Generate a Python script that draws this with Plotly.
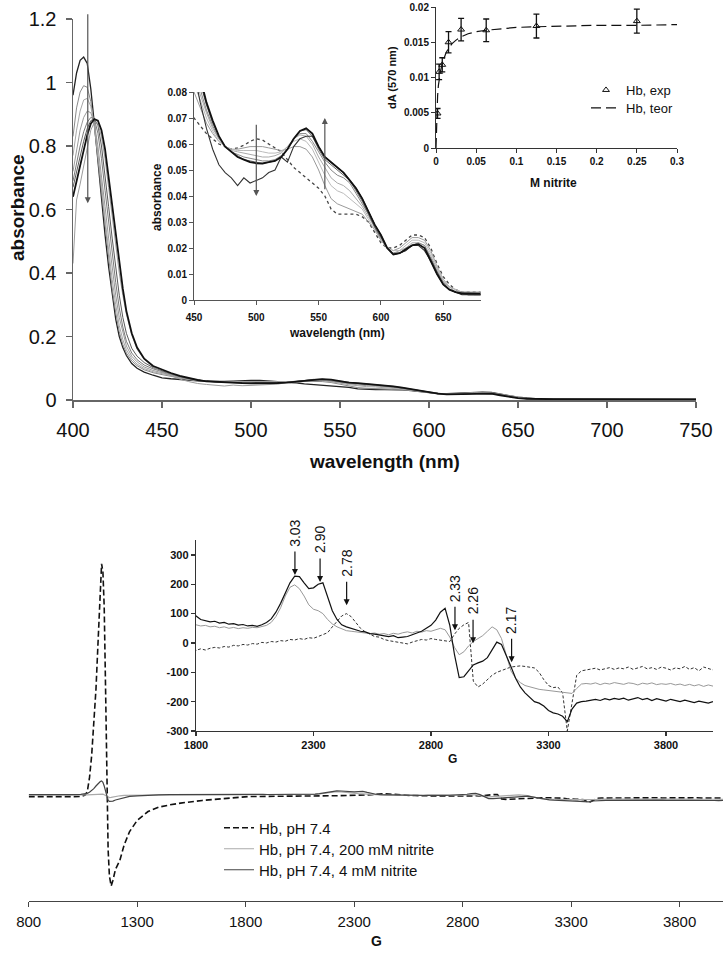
import plotly.graph_objects as go

W, H = 725, 953
FONT = "Liberation Sans, Arial, Helvetica, sans-serif"

# ---------------- UV-vis spectra (nm, absorbance) ----------------
wavelength_nm = [400, 402, 404, 406, 408, 410, 412, 414, 416, 418, 420, 422, 424, 426, 428, 430, 433, 436, 440, 445,
                 450, 455, 460, 465, 470, 475, 480, 485, 490, 495,
                 500, 505, 510, 515, 520, 525, 530, 535, 540, 545,
                 550, 555, 560, 565, 570, 575, 580, 585, 590, 595,
                 600, 605, 610, 615, 620, 625, 630, 635, 640, 645,
                 650, 655, 660, 665, 670, 675, 680, 700, 720, 750]

abs_A = [0.96, 1.03, 1.07, 1.08, 1.06, 0.98, 0.87, 0.75, 0.63, 0.52, 0.42, 0.33, 0.255, 0.20, 0.165, 0.14, 0.115, 0.10, 0.088, 0.078,
         0.070, 0.067, 0.064, 0.062, 0.060, 0.059, 0.058, 0.0585, 0.0595, 0.061,
         0.062, 0.0615, 0.060, 0.0585, 0.057, 0.054, 0.051, 0.049, 0.047, 0.045,
         0.043, 0.040, 0.035, 0.033, 0.033, 0.033, 0.033, 0.032, 0.030, 0.026,
         0.022, 0.020, 0.020, 0.021, 0.023, 0.025, 0.025, 0.024, 0.020, 0.014,
         0.009, 0.006, 0.004, 0.003, 0.003, 0.003, 0.003, 0.002, 0.002, 0.002]
abs_B = [0.83, 0.92, 0.97, 0.99, 0.985, 0.94, 0.86, 0.76, 0.65, 0.54, 0.44, 0.35, 0.275, 0.215, 0.175, 0.148, 0.123, 0.108, 0.095, 0.086,
         0.080, 0.074, 0.068, 0.064, 0.061, 0.059, 0.058, 0.058, 0.0585, 0.059,
         0.059, 0.059, 0.0585, 0.058, 0.0575, 0.058, 0.059, 0.059, 0.058, 0.055,
         0.050, 0.044, 0.039, 0.037, 0.036, 0.035, 0.034, 0.033, 0.030, 0.027,
         0.023, 0.020, 0.019, 0.020, 0.022, 0.024, 0.024, 0.023, 0.019, 0.013,
         0.008, 0.005, 0.004, 0.003, 0.003, 0.003, 0.003, 0.002, 0.002, 0.002]
abs_C = [0.77, 0.85, 0.91, 0.945, 0.95, 0.925, 0.865, 0.78, 0.68, 0.57, 0.47, 0.38, 0.30, 0.235, 0.19, 0.158, 0.13, 0.113, 0.099, 0.089,
         0.083, 0.077, 0.070, 0.065, 0.061, 0.059, 0.058, 0.0575, 0.0575, 0.0575,
         0.0575, 0.057, 0.0565, 0.0565, 0.057, 0.059, 0.061, 0.062, 0.061, 0.058,
         0.053, 0.048, 0.044, 0.042, 0.041, 0.039, 0.037, 0.035, 0.031, 0.027,
         0.023, 0.020, 0.019, 0.019, 0.021, 0.023, 0.023, 0.022, 0.018, 0.013,
         0.008, 0.005, 0.004, 0.003, 0.003, 0.003, 0.003, 0.002, 0.002, 0.002]
abs_D = [0.72, 0.79, 0.85, 0.89, 0.91, 0.905, 0.87, 0.80, 0.71, 0.61, 0.51, 0.41, 0.33, 0.26, 0.21, 0.17, 0.138, 0.12, 0.104, 0.093,
         0.086, 0.079, 0.072, 0.066, 0.062, 0.059, 0.0575, 0.057, 0.0565, 0.056,
         0.0555, 0.055, 0.055, 0.0555, 0.0565, 0.059, 0.062, 0.0635, 0.063, 0.060,
         0.055, 0.051, 0.047, 0.045, 0.044, 0.042, 0.039, 0.036, 0.032, 0.028,
         0.023, 0.020, 0.018, 0.019, 0.020, 0.022, 0.022, 0.021, 0.017, 0.012,
         0.007, 0.005, 0.003, 0.003, 0.003, 0.002, 0.002, 0.002, 0.002, 0.002]
abs_E = [0.69, 0.75, 0.80, 0.845, 0.875, 0.89, 0.885, 0.84, 0.76, 0.66, 0.56, 0.46, 0.37, 0.29, 0.23, 0.185, 0.148, 0.127, 0.11, 0.098,
         0.089, 0.081, 0.073, 0.067, 0.062, 0.059, 0.057, 0.056, 0.055, 0.0545,
         0.054, 0.0535, 0.0535, 0.054, 0.0555, 0.058, 0.062, 0.064, 0.064, 0.061,
         0.057, 0.053, 0.050, 0.048, 0.047, 0.045, 0.041, 0.037, 0.033, 0.028,
         0.024, 0.020, 0.018, 0.018, 0.020, 0.021, 0.022, 0.021, 0.016, 0.011,
         0.007, 0.004, 0.003, 0.003, 0.002, 0.002, 0.002, 0.002, 0.002, 0.002]
abs_F = [0.67, 0.72, 0.77, 0.815, 0.855, 0.88, 0.885, 0.865, 0.80, 0.71, 0.61, 0.51, 0.42, 0.33, 0.26, 0.21, 0.163, 0.138, 0.118, 0.102,
         0.092, 0.083, 0.075, 0.068, 0.063, 0.059, 0.057, 0.0555, 0.054, 0.0535,
         0.053, 0.0525, 0.053, 0.0535, 0.055, 0.058, 0.062, 0.065, 0.0655, 0.063,
         0.058, 0.054, 0.052, 0.050, 0.048, 0.046, 0.042, 0.038, 0.033, 0.028,
         0.024, 0.020, 0.018, 0.018, 0.019, 0.021, 0.0215, 0.020, 0.016, 0.011,
         0.006, 0.004, 0.003, 0.0025, 0.002, 0.002, 0.002, 0.002, 0.002, 0.002]
abs_G = [0.64, 0.69, 0.74, 0.79, 0.835, 0.87, 0.885, 0.88, 0.85, 0.79, 0.70, 0.61, 0.52, 0.43, 0.35, 0.28, 0.21, 0.165, 0.13, 0.107,
         0.095, 0.085, 0.076, 0.069, 0.063, 0.059, 0.057, 0.055, 0.054, 0.053,
         0.0526, 0.0525, 0.053, 0.0535, 0.055, 0.058, 0.062, 0.065, 0.066, 0.064,
         0.059, 0.055, 0.053, 0.051, 0.049, 0.046, 0.043, 0.039, 0.034, 0.029,
         0.025, 0.020, 0.0175, 0.018, 0.0195, 0.021, 0.0215, 0.020, 0.015, 0.010,
         0.006, 0.004, 0.003, 0.0025, 0.0025, 0.0025, 0.0025, 0.002, 0.002, 0.002]
abs_H = [0.43, 0.63, 0.68, 0.74, 0.80, 0.85, 0.875, 0.87, 0.83, 0.76, 0.67, 0.58, 0.49, 0.40, 0.33, 0.27, 0.205, 0.16, 0.128, 0.104,
         0.088, 0.076, 0.066, 0.058, 0.052, 0.049, 0.047, 0.044, 0.047, 0.045,
         0.046, 0.047, 0.049, 0.050, 0.055, 0.053, 0.059, 0.062, 0.063, 0.063,
         0.059, 0.055, 0.053, 0.051, 0.049, 0.046, 0.043, 0.039, 0.034, 0.029,
         0.025, 0.020, 0.0175, 0.018, 0.019, 0.021, 0.021, 0.019, 0.015, 0.010,
         0.006, 0.004, 0.003, 0.002, 0.002, 0.002, 0.002, 0.002, 0.002, 0.002]

uv_x_ticks = [400, 450, 500, 550, 600, 650, 700, 750]
uv_y_ticks = [0, 0.2, 0.4, 0.6, 0.8, 1.0, 1.2]
uv_y_labels = ["0", "0.2", "0.4", "0.6", "0.8", "1", "1.2"]
inset_x_ticks = [450, 500, 550, 600, 650]
inset_y_ticks = [0, 0.01, 0.02, 0.03, 0.04, 0.05, 0.06, 0.07, 0.08]
inset_y_labels = ["0", "0.01", "0.02", "0.03", "0.04", "0.05", "0.06", "0.07", "0.08"]

# ---------------- dA(570 nm) vs nitrite ----------------
nitrite_M = [0.00195, 0.0039, 0.0078, 0.0156, 0.03125, 0.0625, 0.125, 0.25]
dA_exp = [0.0049, 0.0108, 0.0118, 0.0150, 0.0168, 0.0167, 0.0173, 0.0180]
dA_err = [0.0007, 0.0011, 0.0010, 0.0015, 0.0016, 0.0016, 0.0017, 0.0017]
teor_M = [0, 0.0005, 0.001, 0.002, 0.003, 0.004, 0.006, 0.008, 0.01, 0.0125, 0.015, 0.02,
          0.025, 0.03, 0.04, 0.05, 0.0625, 0.08, 0.1, 0.125, 0.15, 0.2, 0.25, 0.3]
dA_teor = [0, 0.0029, 0.0049, 0.0074, 0.0089, 0.0099, 0.0111, 0.0121, 0.0128, 0.0135, 0.0140, 0.0148,
           0.0153, 0.0157, 0.0162, 0.0165, 0.0167, 0.0169, 0.0171, 0.0172, 0.0173, 0.0174, 0.0174, 0.0175]
dA_x_ticks = [0, 0.05, 0.1, 0.15, 0.2, 0.25, 0.3]
dA_x_labels = ["0", "0.05", "0.1", "0.15", "0.2", "0.25", "0.3"]
dA_y_ticks = [0, 0.005, 0.01, 0.015, 0.02]
dA_y_labels = ["0", "0.005", "0.01", "0.015", "0.02"]

# ---------------- EPR spectra (G, a.u.) ----------------
epr_field_low = [800, 850, 900, 950, 1000, 1040, 1060, 1070, 1080, 1090, 1100, 1110, 1120, 1130, 1136,
                 1142, 1148, 1154, 1160, 1166, 1172, 1180, 1188, 1200, 1220, 1240, 1265, 1300, 1350, 1400,
                 1450, 1500, 1600, 1700, 1780]
epr_field_high = list(range(1800, 4001, 20))

epr_hb_low = [-30, -35, -30, -40, -30, -20, 40, 200, 800, 1800, 3100, 4800, 7000, 9400, 10450,
              10100, 8500, 5000, -200, -2400, -3600, -4050, -3800, -3300, -2900, -2200, -1600, -1100, -700, -500,
              -400, -320, -200, -110, -50]
epr_hb_high = [-25, -20, -24, -18, -15, -17, -12, -14, -8, -10,
               -5, -7, -2, -4, 2, 0, 5, 3, 8, 6,
               12, 10, 15, 12, 18, 16, 22, 28, 35, 55,
               75, 92, 100, 90, 70, 50, 38, 30, 22, 20,
               12, 8, 5, 2, 0, -3, 3, 8, 12, 10,
               15, 12, 10, 8, 5, 30, 50, 62, 70, -130,
               -150, -140, -125, -110, -100, -95, -88, -82, -80, -78,
               -80, -82, -85, -100, -125, -145, -152, -150, -170, -300,
               -200, -110, -95, -92, -90, -86, -92, -88, -84, -90,
               -85, -88, -82, -90, -86, -80, -88, -84, -90, -82,
               -86, -92, -85, -88, -80, -90, -84, -95, -82, -88,
               -92]
epr_200_low = [45, 40, 48, 42, 45, 50, 52, 55, 60, 65, 70, 75, 80, 85, 90,
               85, 60, 20, -30, -60, -70, -60, -40, -15, 10, 25, 35, 40, 45, 48,
               50, 52, 55, 58, 60]
epr_200_high = [62, 58, 60, 55, 57, 52, 55, 50, 53, 49,
                52, 50, 53, 52, 56, 60, 70, 90, 120, 160,
                190, 198, 185, 160, 130, 115, 110, 100, 80, 65,
                55, 48, 42, 40, 38, 36, 35, 32, 34, 30,
                32, 28, 33, 30, 35, 38, 34, 40, 37, 42,
                40, 45, 50, 45, 20, -15, -40, -30, -10, 5,
                15, 25, 40, 55, 45, 15, -40, -95, -120, -135,
                -145, -150, -155, -158, -160, -162, -163, -165, -166, -170,
                -172, -155, -140, -138, -140, -136, -142, -137, -140, -135,
                -139, -141, -136, -138, -143, -137, -140, -136, -142, -139,
                -141, -138, -143, -140, -145, -141, -146, -142, -148, -143,
                -147]
epr_4_low = [60, 55, 62, 58, 60, 70, 90, 120, 170, 240, 330, 450, 560, 650, 680,
             620, 450, 200, -80, -200, -240, -250, -230, -180, -120, -60, -20, 10, 40, 55,
             60, 65, 70, 80, 88]
epr_4_high = [92, 80, 76, 72, 74, 68, 70, 64, 66, 61,
              63, 58, 60, 57, 62, 70, 82, 105, 135, 170,
              205, 228, 226, 205, 185, 188, 200, 205, 160, 110,
              80, 62, 55, 50, 44, 40, 38, 32, 30, 27,
              24, 22, 25, 18, 20, 22, 28, 33, 40, 50,
              60, 78, 105, 118, 60, -40, -118, -115, -95, -75,
              -68, -62, -50, -25, 3, -5, -40, -80, -120, -150,
              -170, -185, -200, -205, -215, -230, -238, -242, -250, -268,
              -225, -205, -200, -198, -195, -192, -196, -190, -194, -189,
              -192, -188, -195, -190, -186, -193, -189, -196, -190, -194,
              -198, -192, -197, -200, -195, -199, -203, -198, -202, -205,
              -200]

epr_field = epr_field_low + epr_field_high
epr_hb = epr_hb_low + epr_hb_high
epr_200 = epr_200_low + epr_200_high
epr_4 = epr_4_low + epr_4_high

epr_x_ticks = [800, 1300, 1800, 2300, 2800, 3300, 3800]
epr_in_x_ticks = [1800, 2300, 2800, 3300, 3800]
epr_in_y_ticks = [-300, -200, -100, 0, 100, 200, 300]
epr_in_y_labels = ["-300", "-200", "-100", "0", "100", "200", "300"]

g_labels = ["3.03", "2.90", "2.78", "2.33", "2.26", "2.17"]
g_field = [2221, 2328, 2441, 2902, 2979, 3143]
g_head = [232, 208, 129, 43, -1, -66]


# ---------------- helpers ----------------
def px(x):
    return x / W


def py(y):
    return 1 - y / H


def axis(domain, rng, anchor, tickvals, ticktext=None, size=10, bold=False, ticklen=4,
         color="#555", lw=1, standoff=0):
    d = dict(domain=domain, range=rng, anchor=anchor, tickvals=tickvals,
             ticks="outside", ticklen=ticklen, tickwidth=lw, tickcolor=color,
             showline=True, linecolor=color, linewidth=lw, showgrid=False,
             zeroline=False, automargin=False, fixedrange=True,
             ticklabelstandoff=standoff,
             tickfont=dict(family=FONT, size=size, color="#111",
                           weight="bold" if bold else "normal"))
    if ticktext is not None:
        d["ticktext"] = ticktext
    return d


def legend_box(x, y, size):
    return dict(x=px(x), y=py(y), xanchor="left", yanchor="middle", bgcolor="rgba(0,0,0,0)",
                borderwidth=0, font=dict(family=FONT, size=size, color="#111"), itemwidth=30)


fig = go.Figure()

spectra = [abs_A, abs_B, abs_C, abs_D, abs_E, abs_F, abs_H, abs_G]
main_style = [("#222", 1.3, "solid"), ("#8a8a8a", 1, "solid"), ("#a8a8a8", 1, "solid"),
              ("#9a9a9a", 1, "solid"), ("#7a7a7a", 1, "solid"), ("#5a5a5a", 1, "solid"),
              ("#9c9c9c", 1, "solid"), ("#111", 1.8, "solid")]
inset_style = [("#444", 1.3, "dot"), ("#9a9a9a", 1, "solid"), ("#bbbbbb", 1, "solid"),
               ("#aaaaaa", 1, "solid"), ("#888", 1, "solid"), ("#666", 1, "solid"),
               ("#333", 1.1, "solid"), ("#111", 1.8, "solid")]

for s, (c, w, d) in zip(spectra, main_style):
    fig.add_trace(go.Scatter(x=wavelength_nm, y=s, mode="lines", xaxis="x", yaxis="y",
                             line=dict(color=c, width=w, dash=d), showlegend=False, hoverinfo="skip"))
for s, (c, w, d) in zip(spectra, inset_style):
    fig.add_trace(go.Scatter(x=wavelength_nm, y=s, mode="lines", xaxis="x2", yaxis="y2",
                             line=dict(color=c, width=w, dash=d), showlegend=False, hoverinfo="skip"))

# dA inset
fig.add_trace(go.Scatter(x=nitrite_M, y=dA_exp, mode="markers", xaxis="x3", yaxis="y3",
                         name="Hb, exp", legend="legend2",
                         marker=dict(symbol="triangle-up-open", size=6, color="#111", line=dict(width=1)),
                         error_y=dict(type="data", array=dA_err, color="#111", thickness=1.3, width=3)))
fig.add_trace(go.Scatter(x=teor_M, y=dA_teor, mode="lines", xaxis="x3", yaxis="y3",
                         name="Hb, teor", legend="legend5",
                         line=dict(color="#111", width=1.2, dash="10px,5px")))

# EPR main
fig.add_trace(go.Scatter(x=epr_field, y=epr_hb, mode="lines", xaxis="x4", yaxis="y4",
                         name="Hb, pH 7.4", legend="legend",
                         line=dict(color="#111", width=1.6, dash="6px,3px")))
fig.add_trace(go.Scatter(x=epr_field, y=epr_200, mode="lines", xaxis="x4", yaxis="y4",
                         name="Hb, pH 7.4, 200 mM nitrite", legend="legend3",
                         line=dict(color="#aaa", width=1.2)))
fig.add_trace(go.Scatter(x=epr_field, y=epr_4, mode="lines", xaxis="x4", yaxis="y4",
                         name="Hb, pH 7.4, 4 mM nitrite", legend="legend4",
                         line=dict(color="#444", width=1.2)))

# EPR inset
fig.add_trace(go.Scatter(x=epr_field, y=epr_hb, mode="lines", xaxis="x5", yaxis="y5", showlegend=False,
                         line=dict(color="#333", width=1, dash="3px,2px")))
fig.add_trace(go.Scatter(x=epr_field, y=epr_200, mode="lines", xaxis="x5", yaxis="y5", showlegend=False,
                         line=dict(color="#999", width=1)))
fig.add_trace(go.Scatter(x=epr_field, y=epr_4, mode="lines", xaxis="x5", yaxis="y5", showlegend=False,
                         line=dict(color="#111", width=1.2)))

ann = []


def title(text, x, y, size, angle=0):
    ann.append(dict(text="<b>%s</b>" % text, x=px(x), y=py(y), xref="paper", yref="paper",
                    showarrow=False, textangle=angle, xanchor="center", yanchor="middle",
                    font=dict(family=FONT, size=size, color="#111")))


title("absorbance", 17, 208, 19, -90)
title("wavelength (nm)", 385, 461, 19)
title("absorbance", 157, 197, 12, -90)
title("wavelength (nm)", 337, 333, 12)
title("dA (570 nm)", 392, 77, 11, -90)
title("M nitrite", 553, 183, 12)
title("G", 452, 759, 12)
title("G", 376, 941, 14)

# arrows in absorbance panels
ann.append(dict(x=408.3, y=0.62, ax=408.3, ay=1.22, xref="x", yref="y", axref="x", ayref="y",
                text="", showarrow=True, arrowhead=2, arrowsize=1, arrowwidth=1.2, arrowcolor="#555"))
ann.append(dict(x=500, y=0.040, ax=500, ay=0.068, xref="x2", yref="y2", axref="x2", ayref="y2",
                text="", showarrow=True, arrowhead=2, arrowsize=1, arrowwidth=1.2, arrowcolor="#555"))
ann.append(dict(x=555, y=0.070, ax=555, ay=0.042, xref="x2", yref="y2", axref="x2", ayref="y2",
                text="", showarrow=True, arrowhead=2, arrowsize=1, arrowwidth=1.2, arrowcolor="#555"))

# g-value markers on EPR inset
for lab, fx, hy in zip(g_labels, g_field, g_head):
    ann.append(dict(x=fx, y=hy, xref="x5", yref="y5", ax=0, ay=-25, text="", showarrow=True,
                    arrowhead=2, arrowsize=1, arrowwidth=1.2, arrowcolor="#111"))
    ann.append(dict(x=fx, y=hy, xref="x5", yref="y5", yshift=42, text=lab, showarrow=False,
                    textangle=-90, font=dict(family=FONT, size=14, color="#111")))

fig.update_layout(
    width=W, height=H, autosize=False,
    margin=dict(l=0, r=0, t=0, b=0, pad=0),
    paper_bgcolor="white", plot_bgcolor="rgba(0,0,0,0)",
    font=dict(family=FONT, color="#111"),
    showlegend=True,
    xaxis=axis([px(73), px(696)], [400, 750], "y", uv_x_ticks, size=20, ticklen=6, color="#666", lw=1.5,
               standoff=5),
    yaxis=axis([py(400), py(19)], [0, 1.2], "x", uv_y_ticks, uv_y_labels, size=20, ticklen=6, color="#666",
               lw=1.5, standoff=5),
    xaxis2=axis([px(194), px(480.6)], [450, 680], "y2", inset_x_ticks, size=10, bold=True, standoff=4),
    yaxis2=axis([py(300), py(92)], [0, 0.08], "x2", inset_y_ticks, inset_y_labels, size=10, bold=True),
    xaxis3=axis([px(436), px(677)], [0, 0.3], "y3", dA_x_ticks, dA_x_labels, size=10, bold=True, color="#333"),
    yaxis3=axis([py(148), py(7)], [0, 0.02], "x3", dA_y_ticks, dA_y_labels, size=10, bold=True, color="#333"),
    xaxis4=axis([px(28.7), px(723)], [800, 4000], "y4", epr_x_ticks, size=15, ticklen=5, color="#444", lw=1.2,
                standoff=2),
    yaxis4=dict(domain=[py(901), py(555)], range=[-4725, 10845], anchor="x4", visible=False, fixedrange=True),
    xaxis5=axis([px(196), px(713)], [1800, 4000], "y5", epr_in_x_ticks, size=11, bold=True, color="#333", lw=1.2),
    yaxis5=axis([py(731), py(540)], [-300, 351], "x5", epr_in_y_ticks, epr_in_y_labels, size=11, bold=True,
                color="#333", lw=1.2),
    legend=legend_box(219, 828, 15),
    legend3=legend_box(219, 849, 15),
    legend4=legend_box(219, 870, 15),
    legend2=legend_box(586, 90, 13),
    legend5=legend_box(586, 108, 13),
    annotations=ann,
)

fig.write_html("out.html",
               config={"displayModeBar": False, "staticPlot": True},
               post_script="document.body.style.margin='0px';document.body.style.padding='0px';"
                           "document.documentElement.style.overflow='hidden';")
